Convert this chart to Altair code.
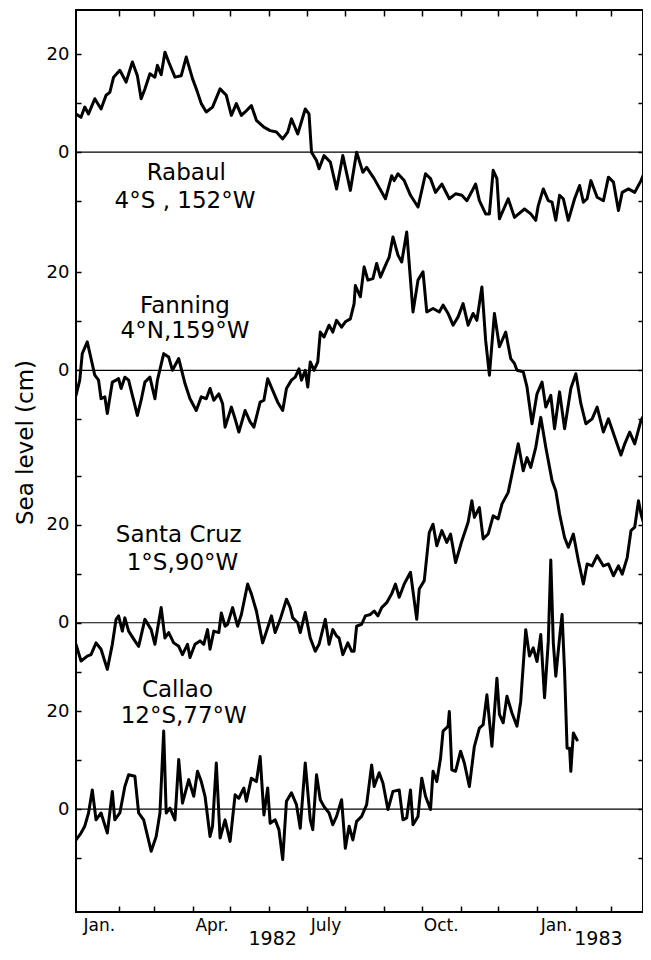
import altair as alt
import pandas as pd

# ---------------- data (day = days since 1982-01-01, value = sea level in cm) -------------
STATIONS = ["Rabaul", "Fanning", "Santa Cruz", "Callao"]
COORDS = ["4°S , 152°W", "4°N,159°W", "1°S,90°W", "12°S,77°W"]
# zero level of each record on the stacked vertical scale (cm units)
OFFSETS = [155, 110.5, 59, 21]

RABAUL = [(-3, 7.8), (1, 7.1), (4, 9.2), (7, 7.8), (12, 10.9), (17, 8.8), (21, 11.6), (24, 12.2),
          (27, 15.3), (32, 16.7), (37, 14.3), (42, 18.4), (46, 15.6), (49, 10.9), (52, 12.9),
          (56, 16.0), (60, 15.3), (62, 17.7), (65, 15.8), (68, 20.4), (71, 18.4), (76, 15.3),
          (81, 15.6), (85, 19.4), (90, 15.0), (94, 12.2), (97, 9.9), (101, 8.2), (106, 9.2),
          (112, 12.9), (117, 11.6), (121, 7.5), (125, 9.9), (129, 7.5), (132, 8.2), (137, 9.5),
          (141, 6.5), (147, 5.1), (152, 4.4), (157, 4.1), (162, 2.7), (166, 4.1), (169, 6.8),
          (174, 3.7), (180, 8.8), (183, 7.8), (185, 0.0), (189, -1.7), (191, -3.4), (195, -0.7),
          (200, -2.0), (205, -7.5), (210, -0.7), (216, -7.8), (221, 0.0), (226, -4.1), (229, -3.1),
          (235, -5.4), (244, -9.5), (249, -4.8), (251, -5.8), (254, -4.4), (259, -5.8), (264, -8.8),
          (270, -11.2), (276, -4.4), (280, -5.4), (284, -8.2), (289, -6.5), (295, -9.5), (300, -8.5),
          (305, -8.8), (309, -9.9), (314, -7.5), (316, -6.5), (319, -9.9), (324, -12.6), (327, -12.6),
          (330, -3.7), (333, -5.4), (335, -13.6), (342, -9.5), (347, -13.3), (355, -11.6),
          (360, -12.6), (364, -13.9), (366, -10.9), (370, -7.5), (374, -9.9), (377, -10.2),
          (380, -13.9), (383, -8.8), (386, -9.5), (390, -13.9), (395, -9.5), (399, -6.8),
          (402, -10.2), (405, -9.5), (408, -5.8), (413, -9.2), (418, -9.9), (422, -5.1), (426, -6.1),
          (430, -11.9), (433, -8.2), (438, -7.5), (443, -8.2), (448, -5.8), (452, -3.4)]

FANNING = [(-3, -5.1), (0, -2.0), (2, 3.4), (6, 5.8), (9, 2.4), (12, -1.0), (15, -2.0), (17, -5.8),
           (20, -5.4), (22, -8.8), (26, -2.4), (29, -2.0), (31, -1.7), (33, -3.7), (36, -1.4),
           (39, -2.0), (42, -5.1), (46, -9.2), (49, -6.1), (52, -2.4), (56, -1.4), (60, -5.8),
           (62, -2.0), (67, 3.4), (71, 2.7), (74, 0.0), (79, 2.4), (84, -2.7), (88, -5.8), (93, -8.2),
           (97, -5.4), (101, -5.8), (104, -3.7), (107, -6.1), (111, -4.8), (114, -6.8), (116, -11.6),
           (121, -7.5), (124, -9.9), (127, -12.6), (132, -8.2), (136, -10.5), (139, -11.6),
           (144, -6.5), (147, -6.1), (150, -1.7), (154, -4.1), (158, -6.5), (162, -8.2), (165, -3.7),
           (169, -2.0), (172, -1.4), (175, 0.3), (177, -2.0), (180, 0.0), (182, -3.4), (184, 1.7),
           (187, 0.0), (190, 1.7), (192, 7.8), (195, 6.8), (199, 9.2), (202, 7.8), (205, 10.2),
           (209, 8.8), (212, 9.9), (216, 10.5), (219, 13.6), (220, 17.3), (224, 15.0), (227, 21.1),
           (230, 18.4), (234, 18.7), (237, 21.8), (240, 19.0), (244, 21.4), (247, 23.1), (250, 27.2),
           (254, 23.5), (257, 22.1), (261, 28.2), (266, 11.9), (270, 18.4), (274, 20.1), (277, 11.9),
           (282, 12.6), (287, 11.9), (290, 13.3), (294, 11.6), (298, 9.2), (302, 10.9), (306, 13.6),
           (310, 9.2), (314, 11.6), (317, 10.2), (321, 17.0), (324, 6.1), (327, -1.0), (331, 11.6),
           (335, 4.8), (340, 7.8), (344, 2.4), (347, 1.4), (349, 0.0), (354, -0.3), (357, -3.4),
           (361, -10.9), (365, -4.8), (369, -2.4), (372, -7.5), (376, -5.1), (379, -11.9),
           (383, -4.4), (387, -11.9), (392, -3.7), (396, -0.7), (400, -6.8), (404, -10.9),
           (409, -9.9), (413, -7.5), (418, -12.6), (422, -9.9), (427, -13.6), (432, -17.3),
           (435, -15.0), (439, -12.6), (443, -15.0), (448, -10.2), (452, -8.5)]

SANTA_CRUZ = [(-3, -4.4), (1, -7.8), (6, -6.8), (9, -6.5), (13, -4.1), (17, -5.4), (22, -9.5),
              (26, -4.4), (29, 0.7), (31, 1.4), (34, -1.7), (36, 1.0), (39, -1.7), (44, -3.7),
              (47, -4.8), (52, 0.7), (57, -1.4), (60, -4.4), (65, 3.1), (68, -3.1), (71, -2.0),
              (75, -4.1), (79, -4.8), (82, -6.5), (86, -4.4), (88, -7.1), (92, -4.4), (96, -3.7),
              (99, -4.4), (102, -1.4), (104, -5.4), (107, -1.7), (111, -2.0), (113, 2.0), (116, -0.7),
              (118, -0.3), (122, 3.1), (126, -0.7), (129, 1.7), (134, 7.9), (137, 5.9), (141, 2.4),
              (146, -4.1), (150, -1.0), (153, 1.4), (156, -2.0), (160, 0.7), (165, 4.8), (168, 3.1),
              (170, 1.0), (174, 0.0), (176, -2.0), (180, 2.1), (184, -3.1), (188, -5.8), (191, -4.4),
              (196, 0.7), (199, -4.4), (202, -1.4), (205, -2.7), (207, -3.1), (210, -6.5), (214, -4.1),
              (217, -5.8), (219, -5.8), (221, -0.7), (225, -0.3), (228, 1.4), (232, 1.7), (235, 2.4),
              (238, 1.4), (241, 3.1), (245, 4.1), (249, 5.9), (252, 7.9), (255, 5.2), (259, 7.9),
              (264, 10.3), (269, 0.7), (271, 6.9), (275, 8.6), (279, 18.4), (282, 20.1), (285, 15.7),
              (289, 18.8), (293, 16.4), (296, 18.1), (300, 12.3), (305, 16.7), (310, 20.5), (313, 24.9),
              (315, 21.5), (319, 23.5), (322, 17.1), (326, 18.1), (330, 21.8), (334, 21.2), (337, 24.2),
              (342, 26.6), (345, 30.3), (350, 36.5), (354, 31.0), (357, 33.7), (360, 31.7), (364, 35.8),
              (368, 41.9), (372, 35.8), (377, 29.0), (380, 26.9), (383, 22.2), (387, 17.4), (390, 15.4),
              (394, 18.1), (398, 12.7), (402, 7.9), (405, 12.0), (409, 11.6), (413, 13.7), (418, 11.6),
              (422, 12.0), (426, 9.6), (430, 11.6), (433, 9.9), (437, 13.3), (440, 18.8), (443, 19.5),
              (446, 24.9), (448, 22.2), (451, 19.5)]

CALLAO = [(-3, -6.3), (1, -4.9), (4, -3.5), (7, -0.8), (10, 3.9), (13, -2.2), (17, -0.8), (22, -4.9),
          (26, 3.6), (28, -2.2), (32, -0.8), (36, 4.6), (39, 7.0), (44, 6.7), (47, -0.8), (51, -2.2),
          (57, -8.6), (61, -5.6), (64, -0.8), (67, 15.9), (69, -0.8), (72, 0.2), (76, -2.2), (79, 10.1),
          (82, 1.2), (87, 6.0), (91, 2.6), (94, 7.7), (97, 5.6), (100, 2.6), (104, -5.6), (106, -3.5),
          (109, 9.4), (112, -5.9), (116, -2.2), (120, -6.6), (124, 2.9), (127, 2.2), (131, 4.3),
          (133, 1.6), (137, 6.3), (141, 5.6), (144, 10.7), (147, -1.2), (150, 4.3), (152, -2.9),
          (156, -2.2), (159, -4.2), (162, -10.3), (165, 1.6), (169, 3.3), (173, 0.9), (176, -3.9),
          (180, 9.4), (184, -2.2), (186, -4.2), (189, 7.0), (192, 1.9), (195, 0.5), (199, -0.8),
          (202, -3.2), (205, -1.5), (209, 1.9), (212, -8.0), (215, -3.5), (218, -6.3), (221, -2.5),
          (225, -1.5), (229, 0.9), (233, 9.0), (235, 4.6), (239, 7.4), (242, 5.3), (246, -0.1),
          (250, 3.6), (255, 3.9), (258, -2.2), (261, -1.8), (264, 3.9), (266, -3.2), (270, -1.5),
          (273, 6.3), (276, 2.6), (280, -0.1), (282, 7.7), (285, 5.6), (288, 10.4), (290, 15.9),
          (294, 16.9), (295, 19.9), (297, 8.0), (300, 7.7), (304, 11.8), (307, 9.4), (311, 4.6),
          (315, 12.8), (319, 16.5), (322, 17.2), (325, 23.3), (329, 12.8), (333, 26.7), (335, 19.3),
          (338, 17.6), (341, 23.0), (345, 19.6), (349, 16.9), (352, 22.0), (356, 36.6), (359, 31.2),
          (362, 32.9), (365, 30.1), (368, 35.6), (371, 22.7), (374, 34.2), (376, 50.8), (378, 33.9),
          (380, 27.1), (383, 34.9), (385, 39.7), (387, 28.1), (389, 12.4), (391, 12.4), (392, 7.7),
          (394, 15.5), (397, 14.1)]

SERIES = [RABAUL, FANNING, SANTA_CRUZ, CALLAO]

# annotation placement (day, cm relative to the record's zero)
NAME_DAY = [85, 84, 79, 78]
NAME_CM = [-5.7, 11.7, 16.5, 22.9]
COORD_DAY = [84, 84, 82, 83]
COORD_CM = [-11.4, 6.6, 10.8, 17.6]

MONTH_STARTS = [0, 31, 59, 90, 120, 151, 181, 212, 243, 273, 304, 334, 365, 396, 424]
MONTH_LABELS = {0: "Jan.", 90: "Apr.", 181: "July", 273: "Oct.", 365: "Jan."}
YEARS = ["1982", "1983"]
YEAR_DAYS = [154, 414]
YEAR_CM = -6.8

X_DOMAIN = [-3, 449.6]
Y_DOMAIN = [0, 184]

# ---------------- tables ----------------
rows = []
for st, off, ser in zip(STATIONS, OFFSETS, SERIES):
    for d, v in ser:
        rows.append({"station": st, "day": d, "cm": v, "offset": off})
df = pd.DataFrame(rows)

lab_rows = []
for st, off, co, nd, nc, cd, cc in zip(STATIONS, OFFSETS, COORDS, NAME_DAY, NAME_CM, COORD_DAY, COORD_CM):
    lab_rows.append({"text": st, "day": nd, "cm": nc, "offset": off})
    lab_rows.append({"text": co, "day": cd, "cm": cc, "offset": off})
labels = pd.DataFrame(lab_rows)
years = pd.DataFrame({"text": YEARS, "day": YEAR_DAYS, "cm": [YEAR_CM] * len(YEARS)})

zeros = pd.DataFrame({"station": STATIONS, "offset": OFFSETS})

yticks = []
for o in OFFSETS:
    yticks += [o - 10, o, o + 10, o + 20]
yticks.append(OFFSETS[2] + 30)
yticks = sorted(yticks)

zero_list = ",".join(str(o) for o in OFFSETS)
twenty_list = ",".join(str(o + 20) for o in OFFSETS)
y_label_expr = (f"indexof([{zero_list}], datum.value) >= 0 ? '0' : "
                f"(indexof([{twenty_list}], datum.value) >= 0 ? '20' : '')")

x_label_expr = " : ".join(f"datum.value == {k} ? '{v}'" for k, v in MONTH_LABELS.items()) + " : ''"

FONT = "DejaVu Sans"
xscale = alt.Scale(domain=X_DOMAIN, nice=False, zero=False)
yscale = alt.Scale(domain=Y_DOMAIN, nice=False, zero=False)

hide_first_tick = {"condition": {"test": "datum.value == 0", "value": 0}, "value": 1}

bottom_axis = alt.Axis(orient="bottom", values=MONTH_STARTS, labelExpr=x_label_expr,
                       offset=-6, tickSize=6, tickWidth=1.5, tickColor="black",
                       tickOpacity=hide_first_tick,
                       domain=False, grid=False, labelOffset=19, labelPadding=5,
                       labelFont=FONT, labelFontSize=17, labelColor="black",
                       labelFlush=False, labelOverlap=False, labelBound=False)
left_axis = alt.Axis(orient="left", values=yticks, labelExpr=y_label_expr,
                     offset=-5, tickSize=5, tickWidth=1.5, tickColor="black",
                     domain=False, grid=False, labelPadding=7,
                     labelFont=FONT, labelFontSize=18, labelColor="black",
                     labelOverlap=False, labelFlush=False,
                     titleFont=FONT, titleFontSize=23, titleFontWeight="normal", titleColor="black",
                     titleAngle=270, titleAlign="center", titleBaseline="middle",
                     titleX=-56, titleY=432)
top_axis = alt.Axis(orient="top", values=MONTH_STARTS, labels=False, offset=-6, tickSize=6,
                    tickWidth=1.5, tickColor="black", tickOpacity=hide_first_tick,
                    domain=False, grid=False)
right_axis = alt.Axis(orient="right", values=yticks, labels=False, offset=-5, tickSize=5,
                      tickWidth=1.5, tickColor="black", domain=False, grid=False)

YTITLE = "Sea level (cm)"

lines = alt.Chart(df).transform_calculate(
    ypos="datum.cm + datum.offset"
).mark_line(color="black", strokeWidth=3, strokeJoin="round", strokeCap="round", clip=True).encode(
    x=alt.X("day:Q", scale=xscale, axis=bottom_axis, title=None),
    y=alt.Y("ypos:Q", scale=yscale, axis=left_axis, title=YTITLE),
    detail="station:N",
    order="day:Q",
)

zero_rules = alt.Chart(zeros).mark_rule(color="black", strokeWidth=1.2).encode(
    y=alt.Y("offset:Q", scale=yscale, title=YTITLE),
)

texts = alt.Chart(labels).transform_calculate(
    ypos="datum.cm + datum.offset"
).mark_text(font=FONT, fontSize=23, color="black", align="center", baseline="alphabetic").encode(
    x=alt.X("day:Q", scale=xscale, title=None),
    y=alt.Y("ypos:Q", scale=yscale, title=YTITLE),
    text="text:N",
)

year_texts = alt.Chart(years).mark_text(
    font=FONT, fontSize=19, color="black", align="center", baseline="alphabetic"
).encode(
    x=alt.X("day:Q", scale=xscale, title=None),
    y=alt.Y("cm:Q", scale=yscale, title=YTITLE),
    text="text:N",
)

main = alt.layer(zero_rules, lines, texts, year_texts)

frame = alt.Chart(zeros).mark_point(opacity=0).encode(
    x=alt.X("offset:Q", scale=xscale, axis=top_axis, title=None),
    y=alt.Y("offset:Q", scale=yscale, axis=right_axis, title=None),
)

chart = alt.layer(main, frame).resolve_scale(x="independent", y="independent").properties(
    width=567, height=902,
    autosize="none",
    padding={"left": 68, "top": 2, "right": 0, "bottom": 40},
).configure_view(stroke="black", strokeWidth=2)

chart.save("out.html", embed_options={"renderer": "svg", "actions": False})
